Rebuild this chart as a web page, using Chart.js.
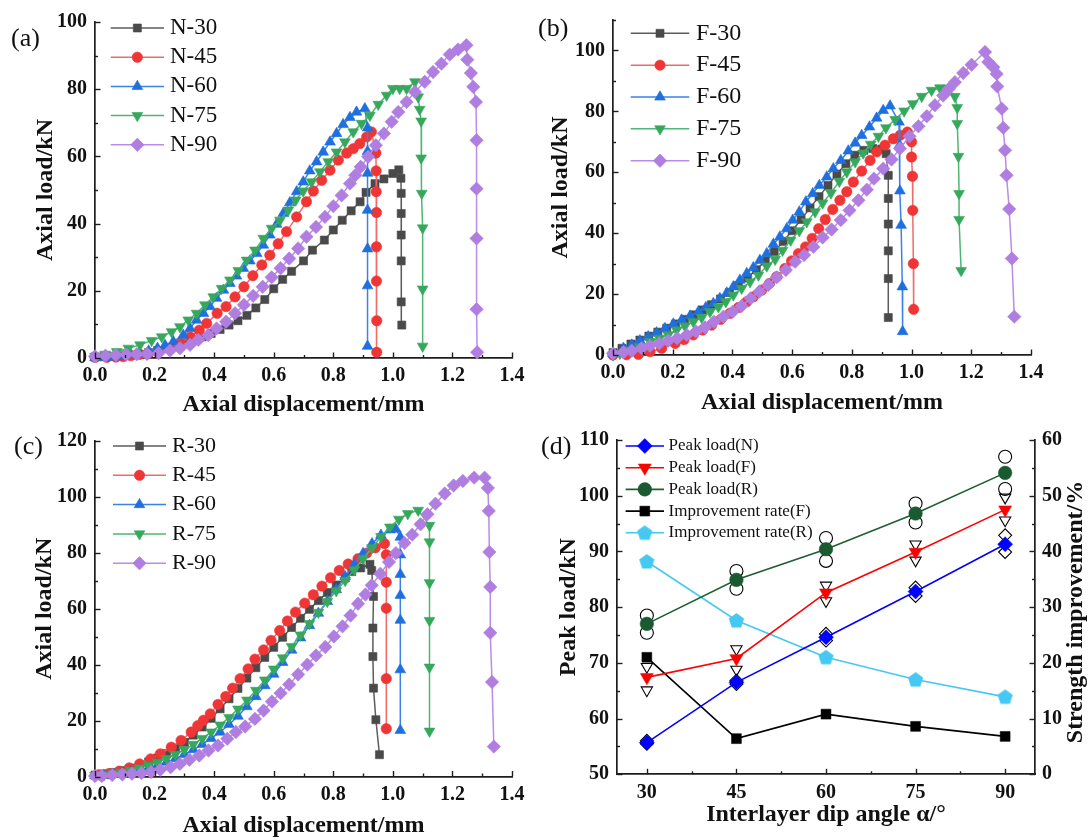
<!DOCTYPE html>
<html><head><meta charset="utf-8">
<script src="https://cdn.jsdelivr.net/npm/chart.js@4.4.1/dist/chart.umd.min.js"></script>
<style>
html,body{margin:0;padding:0;background:#fff;width:1088px;height:838px;overflow:hidden;position:relative}
canvas{position:absolute}
.lab{position:absolute;font-family:'Liberation Serif','Times New Roman',serif;font-size:26px;color:#111;line-height:1;white-space:nowrap}
</style></head><body>
<canvas id="ca" width="540" height="420" style="left:0;top:0;width:540px;height:420px"></canvas>
<canvas id="cb" width="548" height="413" style="left:540px;top:0;width:548px;height:413px"></canvas>
<canvas id="cc" width="540" height="418" style="left:0;top:420px;width:540px;height:418px"></canvas>
<canvas id="cd" width="548" height="418" style="left:540px;top:420px;width:548px;height:418px"></canvas>
<div class="lab" style="left:11px;top:25px">(a)</div>
<div class="lab" style="left:538px;top:15px">(b)</div>
<div class="lab" style="left:14px;top:433px">(c)</div>
<div class="lab" style="left:541px;top:433px">(d)</div>
<script>
// ---------------- data (displacement mm, axial load kN) ----------------
const dispTicks = [0, 0.2, 0.4, 0.6, 0.8, 1.0, 1.2, 1.4];
const loadTicksAB = [0, 20, 40, 60, 80, 100];
const loadTicksC = [0, 20, 40, 60, 80, 100, 120];
const namesN = ['N-30', 'N-45', 'N-60', 'N-75', 'N-90'];
const namesF = ['F-30', 'F-45', 'F-60', 'F-75', 'F-90'];
const namesR = ['R-30', 'R-45', 'R-60', 'R-75', 'R-90'];

const N30 = [[0,0.3],[0.03,0.4],[0.06,0.5],[0.09,0.6],[0.12,0.8],[0.15,1.1],[0.18,1.6],[0.21,2.2],[0.24,2.9],[0.27,3.7],[0.30,4.5],[0.33,5.4],[0.36,6.3],[0.39,7.3],[0.42,8.5],[0.45,9.8],[0.48,11.1],[0.51,12.7],[0.54,14.9],[0.57,17.4],[0.60,20.6],[0.63,23.4],[0.66,25.8],[0.70,28.9],[0.73,32.1],[0.77,35.1],[0.80,38.1],[0.83,41.0],[0.86,43.8],[0.89,46.5],[0.91,49.3],[0.94,51.9],[0.97,53.3],[1.00,54.9],[1.02,56.0],[1.027,53.5],[1.028,49.0],[1.028,43.0],[1.028,36.6],[1.028,28.9],[1.028,16.7],[1.03,9.8]];
const N45 = [[0,0.2],[0.04,0.2],[0.07,0.3],[0.095,0.4],[0.12,0.7],[0.15,1.1],[0.18,1.5],[0.21,1.9],[0.25,2.9],[0.285,4.4],[0.32,6.3],[0.35,8.3],[0.375,10.3],[0.41,13.3],[0.44,15.3],[0.47,18.2],[0.50,21.2],[0.53,24.5],[0.56,27.7],[0.587,30.6],[0.615,34.0],[0.643,37.6],[0.677,42.0],[0.71,46.5],[0.733,49.7],[0.761,52.9],[0.789,55.9],[0.817,58.9],[0.845,61.0],[0.867,62.3],[0.889,63.8],[0.912,65.8],[0.928,67.3],[0.943,61.0],[0.944,55.7],[0.944,49.5],[0.945,43.3],[0.945,33.1],[0.945,22.9],[0.946,11.1],[0.946,1.7]];
const N60 = [[0,0.1],[0.04,0.2],[0.07,0.4],[0.095,0.6],[0.12,1.0],[0.15,1.4],[0.18,2.1],[0.21,2.9],[0.235,3.8],[0.263,4.9],[0.296,6.8],[0.319,8.8],[0.341,11.3],[0.364,13.3],[0.386,15.3],[0.408,17.8],[0.431,20.2],[0.453,22.2],[0.475,24.4],[0.498,26.7],[0.52,28.9],[0.543,31.1],[0.565,33.6],[0.587,36.6],[0.61,39.8],[0.632,43.0],[0.654,46.2],[0.677,49.5],[0.699,52.4],[0.721,55.7],[0.744,58.4],[0.766,61.3],[0.789,64.3],[0.811,66.8],[0.833,69.5],[0.856,71.6],[0.878,73.2],[0.906,74.2],[0.915,68.5],[0.915,61.5],[0.915,55.0],[0.915,44.0],[0.915,32.5],[0.915,21.5],[0.915,3.5]];
const N75 = [[0,0.5],[0.034,1.1],[0.073,1.9],[0.112,2.9],[0.151,3.9],[0.19,5.2],[0.224,6.3],[0.257,7.8],[0.285,9.3],[0.313,11.3],[0.341,13.3],[0.369,15.8],[0.397,18.2],[0.425,20.7],[0.453,23.2],[0.481,26.0],[0.509,29.1],[0.537,32.1],[0.565,35.6],[0.593,38.6],[0.621,41.0],[0.649,44.0],[0.674,47.0],[0.699,49.7],[0.727,52.4],[0.755,55.4],[0.783,58.4],[0.811,61.3],[0.839,64.3],[0.867,67.3],[0.895,69.8],[0.923,72.2],[0.951,75.5],[0.979,78.2],[1.0,80.2],[1.023,80.2],[1.046,80.2],[1.074,82.2],[1.085,77.7],[1.09,74.0],[1.095,70.5],[1.095,59.5],[1.097,49.0],[1.1,38.7],[1.1,20.5],[1.1,3.5]];
const N90 = [[0,0.5],[0.035,0.7],[0.07,0.9],[0.105,1.0],[0.14,1.1],[0.175,1.2],[0.213,1.4],[0.252,2.2],[0.285,2.9],[0.319,3.9],[0.347,5.4],[0.38,6.8],[0.408,8.8],[0.44,10.8],[0.47,13.3],[0.5,15.8],[0.531,18.5],[0.563,21.2],[0.593,24.0],[0.623,26.7],[0.652,29.6],[0.682,32.6],[0.71,36.1],[0.742,39.0],[0.772,42.0],[0.8,45.2],[0.828,48.4],[0.856,51.9],[0.874,54.4],[0.892,56.9],[0.917,59.9],[0.943,63.3],[0.97,66.8],[0.996,70.3],[1.018,73.2],[1.046,76.2],[1.074,79.2],[1.107,82.2],[1.135,85.1],[1.163,87.6],[1.191,90.3],[1.219,91.8],[1.247,93.1],[1.25,88.8],[1.262,84.8],[1.27,80.7],[1.279,76.2],[1.281,64.8],[1.281,50.4],[1.281,35.6],[1.281,14.5],[1.283,1.7]];

const F30 = [[0,0.8],[0.03,2.2],[0.06,3.6],[0.09,4.9],[0.12,6.2],[0.15,7.5],[0.18,8.8],[0.21,10.2],[0.24,11.7],[0.27,13.2],[0.30,14.8],[0.33,16.5],[0.36,18.4],[0.39,20.5],[0.42,22.8],[0.45,25.3],[0.48,28.0],[0.51,30.9],[0.54,34.0],[0.57,37.3],[0.60,40.8],[0.63,44.5],[0.66,48.3],[0.69,52.0],[0.72,55.7],[0.75,59.4],[0.78,62.8],[0.81,65.6],[0.84,67.2],[0.87,67.8],[0.90,67.6],[0.915,66.1],[0.922,59.0],[0.922,51.4],[0.922,43.0],[0.922,34.2],[0.922,25.1],[0.922,12.3]];
const F45 = [[0,0],[0.045,0.1],[0.085,0.2],[0.124,1.1],[0.163,2.2],[0.208,3.8],[0.238,5.1],[0.269,6.6],[0.30,8.2],[0.33,9.8],[0.361,11.7],[0.392,13.7],[0.42,15.6],[0.448,17.5],[0.47,19.1],[0.498,21.3],[0.524,23.5],[0.548,25.7],[0.576,28.4],[0.598,30.9],[0.621,33.3],[0.645,35.5],[0.667,38.3],[0.689,41.5],[0.711,44.5],[0.736,47.8],[0.76,50.8],[0.783,53.6],[0.805,56.8],[0.833,60.4],[0.861,63.9],[0.883,66.7],[0.911,68.9],[0.939,71.0],[0.962,72.2],[0.986,73.2],[1.0,70.0],[1.0,65.0],[1.003,58.7],[1.004,47.5],[1.006,30.0],[1.007,15.0]];
const F60 = [[0,0.5],[0.035,2.2],[0.063,3.3],[0.09,4.7],[0.118,6.0],[0.146,7.3],[0.174,8.7],[0.202,10.2],[0.23,11.5],[0.258,12.8],[0.286,14.2],[0.311,15.6],[0.336,16.9],[0.358,18.6],[0.381,20.4],[0.403,22.4],[0.425,24.6],[0.448,26.8],[0.47,28.7],[0.492,31.1],[0.515,33.3],[0.537,36.4],[0.559,38.8],[0.582,41.5],[0.602,44.3],[0.624,47.0],[0.646,50.3],[0.669,53.0],[0.691,55.7],[0.716,58.5],[0.738,61.2],[0.763,63.9],[0.788,67.0],[0.811,69.6],[0.833,72.1],[0.859,74.9],[0.883,77.8],[0.905,80.3],[0.928,81.8],[0.958,76.5],[0.96,69.0],[0.961,53.9],[0.965,42.6],[0.969,22.4],[0.97,7.7]];
const F75 = [[0,0],[0.023,0.5],[0.057,1.6],[0.09,2.7],[0.124,4.4],[0.155,5.5],[0.185,6.6],[0.213,8.2],[0.241,9.5],[0.269,10.9],[0.297,12.3],[0.325,14.2],[0.353,15.8],[0.378,17.5],[0.403,19.7],[0.431,21.9],[0.459,24.0],[0.487,26.2],[0.515,29.2],[0.543,31.4],[0.568,34.4],[0.595,37.7],[0.624,40.8],[0.649,43.7],[0.677,47.0],[0.702,49.9],[0.73,53.2],[0.758,57.0],[0.783,60.1],[0.811,63.4],[0.838,66.3],[0.863,69.2],[0.889,71.8],[0.914,74.6],[0.945,77.3],[0.975,80.1],[1.004,82.5],[1.034,84.9],[1.067,86.9],[1.095,87.7],[1.12,87.6],[1.145,84.9],[1.153,81.2],[1.153,76.0],[1.157,65.2],[1.159,53.0],[1.159,44.5],[1.166,27.7]];
const F90 = [[0,0.5],[0.035,0.9],[0.063,1.4],[0.096,2.2],[0.124,3.0],[0.155,3.8],[0.185,4.7],[0.215,5.5],[0.247,6.6],[0.278,7.7],[0.308,9.1],[0.338,10.9],[0.37,12.6],[0.401,14.2],[0.431,16.1],[0.461,18.6],[0.49,20.8],[0.52,23.0],[0.548,25.5],[0.579,27.9],[0.61,30.6],[0.64,32.8],[0.671,35.5],[0.702,38.6],[0.732,41.2],[0.763,44.3],[0.792,47.5],[0.822,50.8],[0.85,54.3],[0.874,57.9],[0.905,61.2],[0.933,64.2],[0.961,67.8],[0.993,71.8],[1.023,75.1],[1.051,78.4],[1.078,82.0],[1.106,85.2],[1.125,87.4],[1.145,89.6],[1.173,92.6],[1.201,95.3],[1.246,99.5],[1.257,96.2],[1.274,94.5],[1.285,92.3],[1.287,88.2],[1.302,80.9],[1.307,74.6],[1.313,67.2],[1.318,59.0],[1.327,47.9],[1.336,31.7],[1.344,12.6]];

const R30 = [[0,0.5],[0.03,0.9],[0.06,1.4],[0.09,2.1],[0.12,3.0],[0.15,4.0],[0.18,5.2],[0.21,6.6],[0.24,8.2],[0.27,10.0],[0.30,12.2],[0.33,14.8],[0.36,17.7],[0.39,20.8],[0.42,24.2],[0.45,27.8],[0.48,31.5],[0.51,35.2],[0.54,38.9],[0.57,42.6],[0.60,46.2],[0.63,49.8],[0.66,53.3],[0.69,56.6],[0.72,59.8],[0.75,62.9],[0.78,65.8],[0.81,68.5],[0.84,71.0],[0.862,73.3],[0.892,74.6],[0.923,75.9],[0.929,73.7],[0.935,64.4],[0.933,53.1],[0.933,42.9],[0.935,31.6],[0.943,20.3],[0.955,7.8]];
const R45 = [[0.012,0.6],[0.046,1.0],[0.081,1.9],[0.115,3.1],[0.15,4.5],[0.187,6.3],[0.219,8.1],[0.256,10.5],[0.289,12.9],[0.323,15.9],[0.345,18.2],[0.364,20.1],[0.387,22.4],[0.413,25.8],[0.439,28.6],[0.462,31.6],[0.487,35.0],[0.514,38.5],[0.537,42.0],[0.566,45.3],[0.591,48.7],[0.62,52.2],[0.646,55.6],[0.673,58.8],[0.704,62.0],[0.733,65.0],[0.762,68.1],[0.791,71.1],[0.82,73.7],[0.85,76.0],[0.883,77.9],[0.912,79.9],[0.941,81.8],[0.972,83.3],[0.978,79.3],[0.978,69.5],[0.978,60.2],[0.978,35.0],[0.978,17.1]];
const R60 = [[0,0.3],[0.03,0.5],[0.06,0.8],[0.09,1.2],[0.12,1.7],[0.15,2.3],[0.18,3.1],[0.21,4.0],[0.24,5.1],[0.27,6.4],[0.30,7.9],[0.33,9.6],[0.36,11.5],[0.39,13.6],[0.42,15.9],[0.45,18.6],[0.48,21.6],[0.51,25.0],[0.54,28.6],[0.57,32.5],[0.60,36.6],[0.63,40.8],[0.66,45.2],[0.69,49.6],[0.72,54.0],[0.75,58.4],[0.78,62.6],[0.81,66.8],[0.84,71.5],[0.87,75.8],[0.90,79.8],[0.93,83.3],[0.96,86.3],[0.99,88.2],[1.01,88.5],[1.025,85.6],[1.025,79.3],[1.025,72.3],[1.025,64.8],[1.025,55.9],[1.025,38.2],[1.025,16.5]];
const R75 = [[0,0.3],[0.03,0.6],[0.06,1.0],[0.09,1.5],[0.12,2.2],[0.15,3.0],[0.18,4.0],[0.21,5.1],[0.24,6.4],[0.27,7.9],[0.30,9.6],[0.33,11.5],[0.36,13.6],[0.39,15.9],[0.42,18.4],[0.45,21.1],[0.48,24.1],[0.51,27.3],[0.54,30.8],[0.57,34.5],[0.60,38.4],[0.63,42.4],[0.66,46.5],[0.69,50.6],[0.72,54.7],[0.75,58.7],[0.78,62.6],[0.81,66.4],[0.84,70.1],[0.87,73.9],[0.90,77.9],[0.93,81.8],[0.96,85.8],[0.99,89.2],[1.02,92.0],[1.05,94.0],[1.085,95.2],[1.123,89.8],[1.123,83.9],[1.123,69.3],[1.123,55.8],[1.123,39.1],[1.123,16.2]];
const R90 = [[0,0.2],[0.023,0.2],[0.058,0.5],[0.092,0.7],[0.124,1.0],[0.156,1.2],[0.188,1.6],[0.219,2.4],[0.254,3.3],[0.285,4.5],[0.317,6.0],[0.35,7.5],[0.381,9.3],[0.413,11.1],[0.444,13.5],[0.473,15.9],[0.504,17.9],[0.537,20.6],[0.566,23.6],[0.594,26.8],[0.623,29.8],[0.652,32.9],[0.682,36.5],[0.713,40.0],[0.742,43.3],[0.773,46.3],[0.802,50.1],[0.831,53.7],[0.858,57.6],[0.883,61.8],[0.908,65.1],[0.929,68.4],[0.958,72.5],[0.987,76.7],[1.01,79.9],[1.039,83.5],[1.065,86.5],[1.093,90.2],[1.116,93.8],[1.143,97.6],[1.174,101.2],[1.204,104.1],[1.235,105.7],[1.273,106.9],[1.308,106.9],[1.319,103.2],[1.322,95.0],[1.324,80.3],[1.327,67.8],[1.327,51.4],[1.333,33.8],[1.339,10.7]];

// panel (d)
const angles = [30, 45, 60, 75, 90];
const angleTicks = [30, 45, 60, 75, 90];
const peakTicks = [50, 60, 70, 80, 90, 100, 110];
const rateTicks = [0, 10, 20, 30, 40, 50, 60];
const peakN = [55.7, 66.5, 74.6, 82.8, 91.3];
const peakF = [67.4, 70.8, 82.6, 89.9, 97.5];
const peakR = [77.0, 84.9, 90.4, 96.8, 104.1];
const rateF = [21.0, 6.4, 10.8, 8.6, 6.8];
const rateR = [38.2, 27.6, 21.0, 17.0, 13.9];
const repAngles = [30, 30, 45, 45, 60, 60, 75, 75, 90, 90];
const repN = [56.0, 55.5, 66.8, 66.2, 75.2, 74.0, 83.5, 82.0, 92.9, 89.9];
const repF = [69.3, 65.1, 72.5, 68.8, 83.9, 81.1, 91.3, 88.4, 99.7, 95.6];
const repR = [78.5, 75.4, 86.5, 83.3, 92.4, 88.3, 98.6, 95.2, 107.0, 101.2];

// ---------------- styling ----------------
const SERIF = "'Liberation Serif','Times New Roman',serif";
const AXIS = '#1e1e1e';
const TXT = '#111';
const curveStyles = [
  {ps: 'rect', r: 5.7, rot: 0, fill: '#4a4a4a', line: '#5c5c5c'},
  {ps: 'circle', r: 5.2, rot: 0, fill: '#ef3535', line: '#f06a6a'},
  {ps: 'triangle', r: 6.2, rot: 0, fill: '#1f6fdf', line: '#3b82e8'},
  {ps: 'triangle', r: 6.2, rot: 180, fill: '#36a85c', line: '#4fb574'},
  {ps: 'rectRot', r: 6.7, rot: 0, fill: '#b07de0', line: '#ba8ce6'}
];

function pairs(a) { return a.map(p => ({x: p[0], y: p[1]})); }

function drawMarker(ctx, style, r, rot, x, y) {
  if (Chart.helpers && Chart.helpers.drawPoint) {
    Chart.helpers.drawPoint(ctx, {pointStyle: style, radius: r, rotation: rot, borderWidth: ctx.lineWidth}, x, y);
  } else {
    ctx.beginPath(); ctx.arc(x, y, r, 0, Math.PI * 2); ctx.fill();
  }
}

const innerTicks = {
  id: 'innerTicks',
  afterDatasetsDraw(chart) {
    const ctx = chart.ctx, area = chart.chartArea;
    ctx.save();
    ctx.strokeStyle = AXIS; ctx.lineWidth = 1.4;
    Object.values(chart.scales).forEach(s => {
      const vals = s.ticks.map(t => t.value);
      if (vals.length < 2) return;
      const step = vals[1] - vals[0];
      const minors = [];
      for (let i = 0; i < vals.length - 1; i++) minors.push((vals[i] + vals[i + 1]) / 2);
      let m = vals[vals.length - 1] + step / 2;
      while (m <= s.max + 1e-9) { minors.push(m); m += step; }
      m = vals[0] - step / 2;
      while (m >= s.min - 1e-9) { minors.push(m); m -= step; }
      const draw = (v, len) => {
        const p = Math.round(s.getPixelForValue(v)) + 0.5;
        ctx.beginPath();
        if (s.isHorizontal()) { ctx.moveTo(p, area.bottom); ctx.lineTo(p, area.bottom - len); }
        else if (s.position === 'left') { ctx.moveTo(area.left, p); ctx.lineTo(area.left + len, p); }
        else { ctx.moveTo(area.right, p); ctx.lineTo(area.right - len, p); }
        ctx.stroke();
      };
      vals.forEach(v => draw(v, 5.5));
      minors.forEach(v => draw(v, 3));
    });
    ctx.restore();
  }
};

const inLegend = {
  id: 'inLegend',
  afterDraw(chart, args, o) {
    if (!o || o.x === undefined) return;
    const ctx = chart.ctx;
    chart.data.datasets.forEach((ds, i) => {
      if (i >= o.count) return;
      const y = o.y0 + i * o.dy;
      ctx.save();
      ctx.strokeStyle = ds.borderColor; ctx.lineWidth = ds.borderWidth;
      ctx.beginPath(); ctx.moveTo(o.x, y); ctx.lineTo(o.x + o.len, y); ctx.stroke();
      ctx.fillStyle = ds.pointBackgroundColor; ctx.strokeStyle = ds.pointBorderColor; ctx.lineWidth = ds.pointBorderWidth || 0.6;
      drawMarker(ctx, ds.pointStyle, ds.pointRadius, ds.pointRotation || 0, o.x + o.len / 2, y);
      ctx.fillStyle = TXT; ctx.font = o.size + 'px ' + SERIF;
      ctx.textBaseline = 'middle'; ctx.textAlign = 'left';
      ctx.fillText(ds.label, o.x + o.len + o.gap, y);
      ctx.restore();
    });
  }
};

const sideTitle = {
  id: 'sideTitle',
  afterDraw(chart, args, o) {
    if (!o || !o.text) return;
    const ctx = chart.ctx;
    ctx.save();
    ctx.translate(o.x, o.y); ctx.rotate(-Math.PI / 2);
    ctx.font = 'bold 24px ' + SERIF; ctx.fillStyle = TXT;
    ctx.textAlign = 'center'; ctx.textBaseline = 'middle';
    ctx.fillText(o.text, 0, 0);
    ctx.restore();
  }
};

const tickFont = {family: SERIF, size: 20, weight: 'bold'};
const titleFont = {family: SERIF, size: 24, weight: 'bold', lineHeight: 1};

function curveChart(id, series, names, o) {
  const datasets = series.map((s, i) => {
    const st = curveStyles[i];
    return {
      label: names[i], data: pairs(s), showLine: true,
      borderColor: st.line, borderWidth: 1.5,
      pointStyle: st.ps, pointRadius: st.r, pointRotation: st.rot,
      pointBackgroundColor: st.fill, pointBorderColor: st.fill, pointBorderWidth: 0.6,
      order: -i, clip: false
    };
  });
  return new Chart(document.getElementById(id), {
    type: 'scatter',
    data: {datasets},
    options: {
      responsive: false, animation: false, events: [],
      layout: {padding: {left: 0, top: o.padTop, right: o.padRight, bottom: 0}},
      plugins: {legend: {display: false}, tooltip: {enabled: false},
        inLegend: {x: o.lx, y0: o.ly, dy: o.ldy, len: o.llen, gap: o.lgap, size: o.lsize, count: 5}},
      scales: {
        x: {
          type: 'linear', min: 0, max: 1.4,
          afterBuildTicks: s => { s.ticks = dispTicks.map(v => ({value: v})); },
          afterFit: s => { s.height = o.xh; },
          grid: {display: false, drawTicks: false},
          border: {display: true, color: AXIS, width: 1.7},
          ticks: {padding: 6, color: TXT, font: tickFont, autoSkip: false, maxRotation: 0, callback: v => Number(v).toFixed(1)},
          title: {display: true, text: 'Axial displacement/mm', color: TXT, font: titleFont, padding: {top: 0, bottom: o.xtp}}
        },
        y: {
          type: 'linear', min: 0, max: o.ymax,
          afterBuildTicks: s => { s.ticks = o.yticks.map(v => ({value: v})); },
          afterFit: s => { s.width = o.yw; },
          grid: {display: false, drawTicks: false},
          border: {display: true, color: AXIS, width: 1.7},
          ticks: {padding: 8, color: TXT, font: tickFont, autoSkip: false, callback: v => String(v)},
          title: {display: true, text: 'Axial load/kN', color: TXT, font: titleFont, padding: {top: o.ytp, bottom: 0}}
        }
      }
    },
    plugins: [innerTicks, inLegend]
  });
}

curveChart('ca', [N30, N45, N60, N75, N90], namesN,
  {padTop: 22, padRight: 28, xh: 62, yw: 95, ymax: 100, yticks: loadTicksAB, xtp: 3, ytp: 34,
   lx: 110.7, ly: 28, ldy: 29.2, llen: 53.3, lgap: 6, lsize: 23});
curveChart('cb', [F30, F45, F60, F75, F90], namesF,
  {padTop: 19.5, padRight: 57, xh: 58, yw: 73, ymax: 110, yticks: loadTicksAB, xtp: -2, ytp: 9,
   lx: 90.7, ly: 33.3, ldy: 31.85, llen: 58.6, lgap: 6.7, lsize: 24});
curveChart('cc', [R30, R45, R60, R75, R90], namesR,
  {padTop: 21, padRight: 28, xh: 61.5, yw: 95, ymax: 120, yticks: loadTicksC, xtp: 0, ytp: 33,
   lx: 113, ly: 26, ldy: 29.3, llen: 53, lgap: 6, lsize: 22});

// pentagon marker for Improvement rate(R)
const penta = document.createElement('canvas');
penta.width = 17; penta.height = 17;
(function () {
  const c = penta.getContext('2d');
  c.fillStyle = '#45c8f2';
  c.beginPath();
  for (let k = 0; k < 5; k++) {
    const a = -Math.PI / 2 + k * 2 * Math.PI / 5;
    const px = 8.5 + 8 * Math.cos(a), py = 9 + 8 * Math.sin(a);
    if (k === 0) c.moveTo(px, py); else c.lineTo(px, py);
  }
  c.closePath(); c.fill();
})();

function pts(xs, ys) { return xs.map((x, i) => ({x, y: ys[i]})); }
const hollow = (data, style, rot) => ({
  label: '', data, showLine: false, pointStyle: style, pointRotation: rot, pointRadius: 6.5,
  pointBackgroundColor: 'rgba(0,0,0,0)', pointBorderColor: '#000', pointBorderWidth: 1.1, yAxisID: 'y', clip: false
});

new Chart(document.getElementById('cd'), {
  type: 'scatter',
  data: {datasets: [
    {label: 'Peak load(N)', data: pts(angles, peakN), showLine: true, borderColor: '#0000ff', borderWidth: 1.6,
     pointStyle: 'rectRot', pointRadius: 7.5, pointRotation: 0, pointBackgroundColor: '#0000ff', pointBorderColor: '#0000ff', pointBorderWidth: 0.5, yAxisID: 'y', clip: false},
    {label: 'Peak load(F)', data: pts(angles, peakF), showLine: true, borderColor: '#ff0000', borderWidth: 1.6,
     pointStyle: 'triangle', pointRadius: 7.5, pointRotation: 180, pointBackgroundColor: '#ff0000', pointBorderColor: '#ff0000', pointBorderWidth: 0.5, yAxisID: 'y', clip: false},
    {label: 'Peak load(R)', data: pts(angles, peakR), showLine: true, borderColor: '#1e5e33', borderWidth: 1.6,
     pointStyle: 'circle', pointRadius: 6.8, pointRotation: 0, pointBackgroundColor: '#1b5a30', pointBorderColor: '#1b5a30', pointBorderWidth: 0.5, yAxisID: 'y', clip: false},
    {label: 'Improvement rate(F)', data: pts(angles, rateF), showLine: true, borderColor: '#000000', borderWidth: 1.6,
     pointStyle: 'rect', pointRadius: 7, pointRotation: 0, pointBackgroundColor: '#000000', pointBorderColor: '#000000', pointBorderWidth: 0.5, yAxisID: 'y1', clip: false},
    {label: 'Improvement rate(R)', data: pts(angles, rateR), showLine: true, borderColor: '#45c8f2', borderWidth: 1.6,
     pointStyle: penta, pointRadius: 7, pointRotation: 0, pointBackgroundColor: '#45c8f2', pointBorderColor: '#45c8f2', pointBorderWidth: 0.5, yAxisID: 'y1', clip: false},
    hollow(pts(repAngles, repN), 'rectRot', 0),
    hollow(pts(repAngles, repF), 'triangle', 180),
    hollow(pts(repAngles, repR), 'circle', 0)
  ]},
  options: {
    responsive: false, animation: false, events: [],
    layout: {padding: {left: 0, top: 18.5, right: 0, bottom: 0}},
    plugins: {legend: {display: false}, tooltip: {enabled: false},
      inLegend: {x: 85.6, y0: 26, dy: 21.7, len: 38.4, gap: 4.6, size: 17, count: 5},
      sideTitle: {text: 'Strength improvement/%', x: 536, y: 192}},
    scales: {
      x: {
        type: 'linear', min: 25, max: 95,
        afterBuildTicks: s => { s.ticks = angleTicks.map(v => ({value: v})); },
        afterFit: s => { s.height = 63.7; },
        grid: {display: false, drawTicks: false},
        border: {display: true, color: AXIS, width: 1.7},
        ticks: {padding: 7, color: TXT, font: tickFont, autoSkip: false, maxRotation: 0, callback: v => String(v)},
        title: {display: true, text: 'Interlayer dip angle α/°', color: TXT, font: titleFont, padding: {top: 0, bottom: 11}}
      },
      y: {
        type: 'linear', position: 'left', min: 50, max: 110,
        afterBuildTicks: s => { s.ticks = peakTicks.map(v => ({value: v})); },
        afterFit: s => { s.width = 77; },
        grid: {display: false, drawTicks: false},
        border: {display: true, color: AXIS, width: 1.7},
        ticks: {padding: 8, color: TXT, font: tickFont, autoSkip: false, callback: v => String(v)},
        title: {display: true, text: 'Peak load/kN', color: TXT, font: titleFont, padding: {top: 17, bottom: 0}}
      },
      y1: {
        type: 'linear', position: 'right', min: 0, max: 60,
        afterBuildTicks: s => { s.ticks = rateTicks.map(v => ({value: v})); },
        afterFit: s => { s.width = 53; },
        grid: {display: false, drawTicks: false},
        border: {display: true, color: AXIS, width: 1.7},
        ticks: {padding: 7, color: TXT, font: tickFont, autoSkip: false, callback: v => String(v)},
        title: {display: false}
      }
    }
  },
  plugins: [innerTicks, inLegend, sideTitle]
});
</script>
</body></html>
